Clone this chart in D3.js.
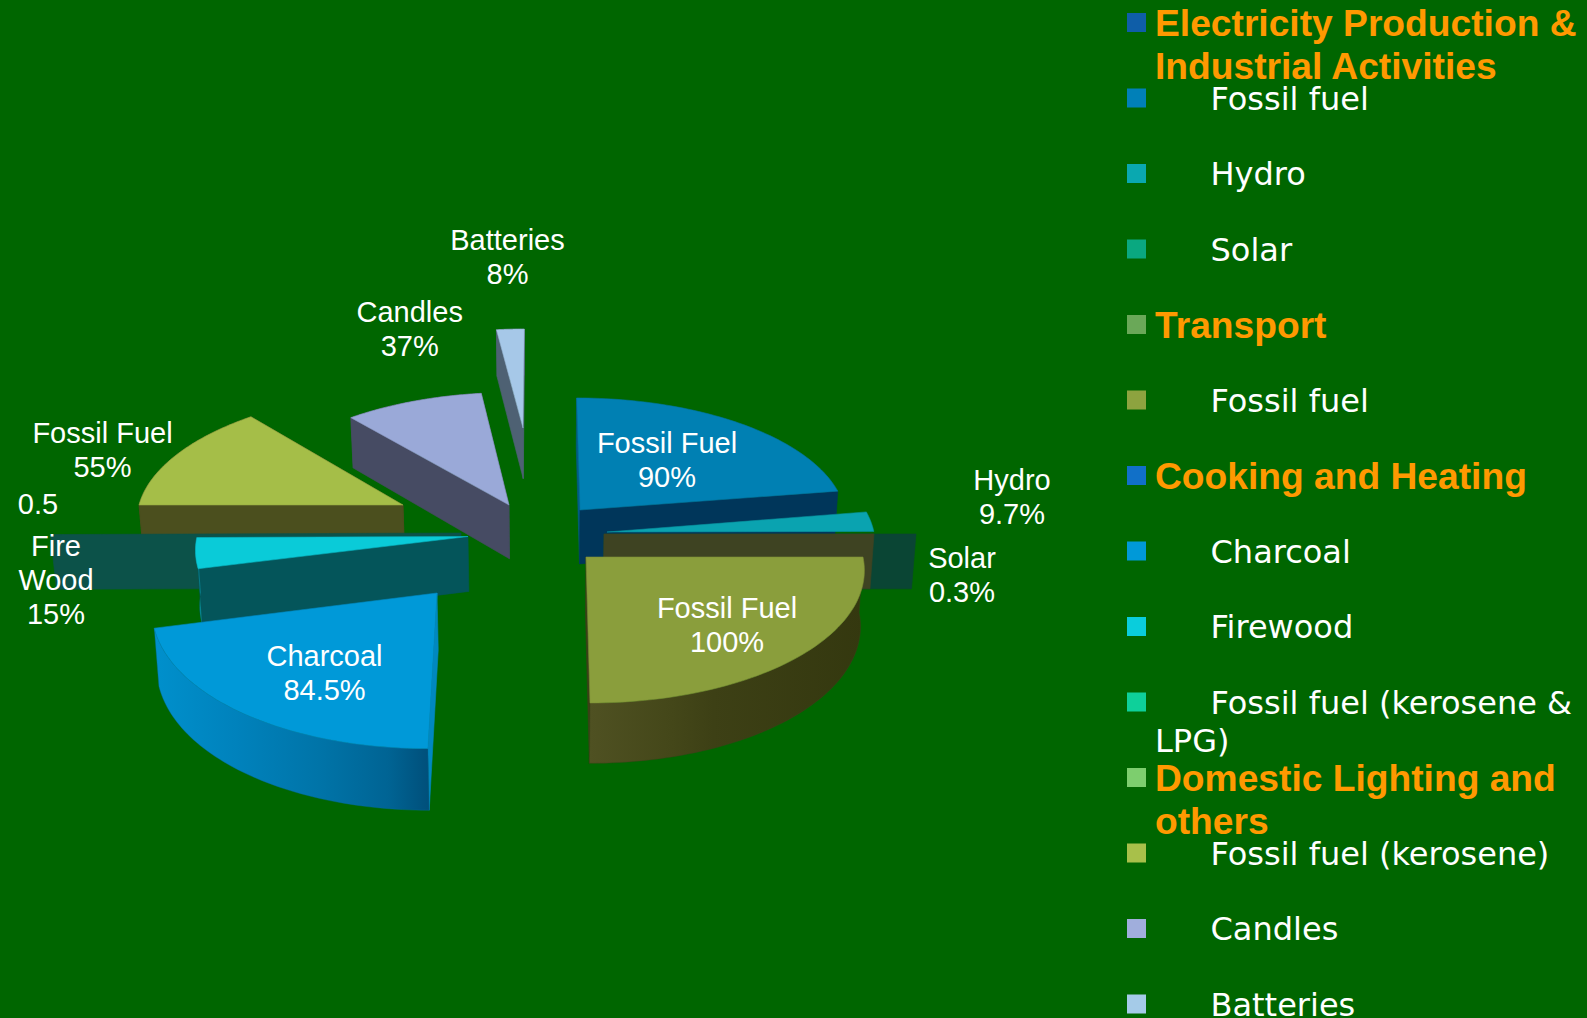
<!DOCTYPE html>
<html>
<head>
<meta charset="utf-8">
<script src="https://cdn.jsdelivr.net/npm/d3@7"></script>
<style>
  html, body { margin: 0; padding: 0; background: #006600; overflow: hidden; }
  svg { display: block; }
  .label { font-family: "Liberation Sans", Arial, sans-serif; font-size: 29px; fill: #fff; text-anchor: middle; }
  .legendHead { font-family: "Liberation Sans", Arial, sans-serif; font-size: 37.2px; font-weight: bold; fill: #ff9900; }
  .legendItem { font-family: "DejaVu Sans", Verdana, sans-serif; font-size: 32px; fill: #fff; }
</style>
</head>
<body>
<svg id="chart"></svg>
<script>
//Data - each group of four sums to 100, so every group is a quarter of the pie
const sliceNames = ["Fossil Fuel", "Hydro", "Solar", "Fossil Fuel", "Charcoal", "Fire Wood", "Fossil fuel (kerosene & LPG)", "Fossil Fuel", "Candles", "Batteries"];
const sliceValues = [90, 9.7, 0.3, 100, 84.5, 15, 0.5, 55, 37, 8];
const sliceLabels = [["Fossil Fuel", "90%"], ["Hydro", "9.7%"], ["Solar", "0.3%"], ["Fossil Fuel", "100%"], ["Charcoal", "84.5%"], ["Fire", "Wood", "15%"], ["0.5"], ["Fossil Fuel", "55%"], ["Candles", "37%"], ["Batteries", "8%"]];

const legendLines = [
  ["Electricity Production &", "Industrial Activities"], ["Fossil fuel"], ["Hydro"], ["Solar"],
  ["Transport"], ["Fossil fuel"],
  ["Cooking and Heating"], ["Charcoal"], ["Firewood"], ["Fossil fuel (kerosene &", "LPG)"],
  ["Domestic Lighting and", "others"], ["Fossil fuel (kerosene)"], ["Candles"], ["Batteries"]
];
const legendHeading = [true, false, false, false, true, false, true, false, false, false, true, false, false, false];
const legendColors = ["#0f5ea8", "#0080b8", "#0aa8b0", "#0aa880", "#6aa858", "#8da33f", "#1170c8", "#0099d8", "#0acddc", "#0ed09a", "#7dce6e", "#a8c04a", "#a0aedc", "#a5cbe8"];

//Look of each slice, same order as the data
const topColors = ["#0080b3", "#0aa3b0", "#0aa880", "#8a9e3c", "#0099d8", "#0acbd8", "#0ed09a", "#a5be48", "#9aa9d8", "#a6c8e8"];
const wallColors = ["#00365a", "#07606a", "#0a4534", "#3c4018", "#006a9c", "#04555a", "#0c5249", "#4b4f1e", "#464b63", "#4e6173"];

//Explosion, radius and tilt of each slice (the source chart has no common value for them)
const pieCentre = [500, 540];
const explode = [[80, -30], [107, -8], [104, -6], [86, 17], [-63, 53], [-32, -3.5], [-39, -7], [-97, -35], [9, -35], [23, -112]];
const radius = [265, 267, 312, 277, 283, 271, 410, 264, 263, 240];
const tilt = [0.461, 0.487, 0.48, 0.485, 0.505, 0.484, 0.48, 0.469, 0.466, 0.446];
const labelAt = [[667, 452.5], [1012, 490], [962, 567.5], [727, 617.5], [324.5, 666], [56, 556], [38, 513.5], [102.5, 443], [409.7, 322], [507.5, 250]];

const w = 1587;
const h = 1018;
const vanishX = 540;
const persp = 0.000313;
const depth = 55;
const wallLean = 0.012;

const chart = d3.select("#chart").attr("width", w).attr("height", h);
const defs = chart.append("defs");

//Pie Setup
const arcs = d3.pie().sort(null).startAngle(0).endAngle(2 * Math.PI)(sliceValues);
const line = d3.line();
const tipX = (i) => pieCentre[0] + explode[i][0];
const tipY = (i) => pieCentre[1] + explode[i][1];

//Project a point of the slice onto the screen. Y is toward the viewer
function project(i, angle, r) {
  const X = r * Math.sin(angle);
  const Y = -r * Math.cos(angle);
  const p = 1 + Y * persp;
  return {
    x: tipX(i) + X * p + (tipX(i) - vanishX) * Y * persp,
    y: tipY(i) + Y * tilt[i] * p,
    h: depth * (1 + (Y + explode[i][1] / tilt[i]) * persp)
  };
}

const down = (pt) => [pt.x + (vanishX - pt.x) * wallLean, pt.y + pt.h];
const flat = (pt) => [pt.x, pt.y];

function drawEdgeWall(g, i, angle, r, fill, from) {
  const a = project(from === undefined ? i : from, 0, 0);
  const b = project(from === undefined ? i : from, angle, r);
  g.append("path")
    .attr("d", line([flat(a), flat(b), down(b), down(a)]) + "Z")
    .attr("fill", fill)
    .attr("stroke", fill)
    .attr("stroke-width", 0.6);
}

function arcPoints(i) {
  const n = 60;
  return d3.range(n + 1).map((t) => {
    const angle = arcs[i].startAngle + (arcs[i].endAngle - arcs[i].startAngle) * t / n;
    return project(i, angle, radius[i]);
  });
}

function drawArcWall(g, i, fill) {
  const pts = arcPoints(i);
  g.append("path")
    .attr("d", line(pts.map(flat).concat(pts.map(down).reverse())) + "Z")
    .attr("fill", fill)
    .attr("stroke", wallColors[i])
    .attr("stroke-width", 0.4);
}

function drawTop(g, i) {
  const tip = project(i, 0, 0);
  g.append("path")
    .attr("d", line([flat(tip)].concat(arcPoints(i).map(flat))) + "Z")
    .attr("fill", topColors[i])
    .attr("stroke", d3.color(topColors[i]).darker(0.3))
    .attr("stroke-width", 0.6);
}

function addGradient(id, stops) {
  const grad = defs.append("linearGradient").attr("id", id).attr("x1", 0).attr("x2", 1).attr("y1", 0).attr("y2", 0);
  stops.forEach((s) => grad.append("stop").attr("offset", s[0]).attr("stop-color", s[1]));
  return "url(#" + id + ")";
}

const charcoalWall = addGradient("charcoalWall", [[0, "#0090cc"], [0.3, "#0082bc"], [0.6, "#0074a8"], [0.85, "#006494"], [1, "#004f7a"]]);
const fossilWall = addGradient("fossilWall", [[0, "#4f5122"], [0.3, "#444719"], [0.45, "#3d4015"], [1, "#34380f"]]);
const firewoodRim = "#0a8f9f";

//Slices are painted back to front
const pieGroup = chart.append("g").attr("id", "pie");
const sliceGroup = (i) => pieGroup.append("g").attr("class", "slice").attr("data-name", sliceNames[i]);

//Batteries, Candles, Fossil Fuel 55%
[9, 8, 7].forEach((i) => {
  const g = sliceGroup(i);
  drawArcWall(g, i, wallColors[i]);
  drawEdgeWall(g, i, arcs[i].endAngle, radius[i], wallColors[i]);
  drawEdgeWall(g, i, arcs[i].startAngle, radius[i], wallColors[i]);
  drawTop(g, i);
});

//Fossil fuel 0.5, only its wall can be seen
drawEdgeWall(sliceGroup(6), 6, arcs[6].startAngle, radius[6], wallColors[6]);

//Firewood
{
  const g = sliceGroup(5);
  drawEdgeWall(g, 5, arcs[5].startAngle, radius[5], wallColors[5]);
  drawArcWall(g, 5, firewoodRim);
  drawTop(g, 5);
}

//Charcoal
{
  const g = sliceGroup(4);
  drawEdgeWall(g, 4, arcs[4].startAngle, radius[4], "#0088c0");
  drawArcWall(g, 4, charcoalWall);
  drawTop(g, 4);
}

//Fossil Fuel 90%
{
  const g = sliceGroup(0);
  drawEdgeWall(g, 0, arcs[0].startAngle, radius[0], "#005c88");
  drawEdgeWall(g, 0, arcs[0].endAngle, radius[0], wallColors[0]);
  drawTop(g, 0);
}

//Hydro
{
  const g = sliceGroup(1);
  drawTop(g, 1);
}

//Solar wall, then the wall of the 100% slice sitting at the Solar tip like in the source
drawEdgeWall(sliceGroup(2), 2, arcs[2].endAngle, radius[2], wallColors[2]);
drawEdgeWall(pieGroup, 3, arcs[3].startAngle, radius[3] - 7, "#3e4322", 2);

//Fossil Fuel 100%
{
  const g = sliceGroup(3);
  drawEdgeWall(g, 3, arcs[3].endAngle, radius[3], wallColors[3]);
  drawArcWall(g, 3, fossilWall);
  drawTop(g, 3);
}

//Labels Setup
const labelLine = 34;
const labels = chart.append("g").attr("id", "labels").selectAll("text")
  .data(sliceLabels)
  .enter()
  .append("text")
  .attr("class", "label")
  .attr("x", (d, i) => labelAt[i][0])
  .attr("y", (d, i) => labelAt[i][1]);
labels.selectAll("tspan")
  .data((d, i) => d.map((t) => ({ t: t, x: labelAt[i][0] })))
  .enter()
  .append("tspan")
  .attr("x", (d) => d.x)
  .attr("dy", (d, k) => k === 0 ? 0 : labelLine)
  .text((d) => d.t);

//Legend Setup
const legendY = d3.scaleLinear().domain([0, legendLines.length - 1]).range([22.5, 1004]);
const legendRows = chart.append("g").attr("id", "legend").selectAll("g")
  .data(legendLines)
  .enter()
  .append("g")
  .attr("transform", (d, i) => "translate(0, " + legendY(i) + ")");

legendRows.append("rect")
  .attr("x", 1127)
  .attr("y", -9.5)
  .attr("width", 19)
  .attr("height", 19)
  .attr("fill", (d, i) => legendColors[i]);

legendRows.each(function (d, i) {
  const row = d3.select(this);
  d.forEach((txt, k) => {
    const head = legendHeading[i];
    row.append("text")
      .attr("class", head ? "legendHead" : "legendItem")
      .attr("x", head || k > 0 ? 1155 : 1210.5)
      .attr("y", head ? 13.5 + k * 42.5 : 11.5 + k * 38)
      .text(txt);
  });
});
</script>
</body>
</html>
